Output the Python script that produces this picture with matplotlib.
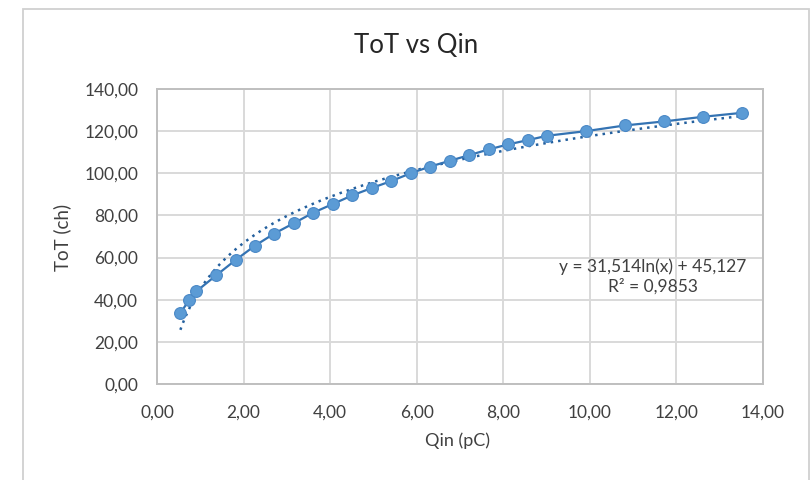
import matplotlib.pyplot as plt
import numpy as np
from matplotlib.ticker import FuncFormatter, MultipleLocator
from matplotlib.patches import Rectangle

# measured points, Qin (pC) vs ToT (ch)
qin = [0.54, 0.75, 0.91, 1.37, 1.82, 2.26, 2.71, 3.16, 3.61, 4.06,
       4.51, 4.96, 5.41, 5.86, 6.31, 6.76, 7.21, 7.66, 8.11, 8.56,
       9.01, 9.91, 10.81, 11.71, 12.61, 13.52]
tot = [33.7, 40.0, 44.0, 51.6, 58.9, 65.6, 71.4, 76.3, 81.3, 85.4,
       89.5, 93.0, 96.3, 100.0, 103.2, 105.9, 108.6, 111.3, 113.7, 115.7,
       117.8, 120.0, 122.7, 124.6, 126.8, 128.7]

# log trendline as reported by the spreadsheet
slope = 31.514
intercept = 45.127
r2 = 0.9853

plt.rcParams['font.family'] = ['Lato', 'DejaVu Sans']

fig = plt.figure(figsize=(8.12, 4.8), dpi=100)
W, H = 812, 480
ax = fig.add_axes([157 / W, 1 - 384 / H, (763 - 157) / W, (384 - 89) / H])

# outer chart border (open at the bottom, cropped)
fig.patches.append(Rectangle((23.5 / W, -0.05), (809 - 23.5) / W, 1.05 - 8.5 / H,
                             transform=fig.transFigure, fill=False,
                             edgecolor='#D0D0D0', linewidth=1.3))

xt = np.linspace(min(qin), max(qin), 300)
ax.plot(xt, slope * np.log(xt) + intercept, linestyle=(0, (1, 2.0)),
        color='#24609E', linewidth=1.8, zorder=3)
ax.plot(qin, tot, color='#3473B3', linewidth=1.6, marker='o', markersize=8.5,
        markerfacecolor='#5B9BD5', markeredgecolor='#4A88C6',
        markeredgewidth=0.8, zorder=4)

ax.set_xlim(0, 14)
ax.set_ylim(0, 140)
ax.xaxis.set_major_locator(MultipleLocator(2))
ax.yaxis.set_major_locator(MultipleLocator(20))
fmt = FuncFormatter(lambda v, p: '{:.2f}'.format(v).replace('.', ','))
ax.xaxis.set_major_formatter(fmt)
ax.yaxis.set_major_formatter(fmt)
ax.tick_params(length=0, labelsize=12.5, colors='#404040')
ax.tick_params(axis='x', pad=14.5)
ax.tick_params(axis='y', pad=13.5)
ax.grid(color='#D9D9D9', linewidth=1.4)
ax.set_axisbelow(True)
for s in ax.spines.values():
    s.set_color('#BFBFBF')
    s.set_linewidth(1.4)

fig.text(416 / W, 1 - 53.3 / H, 'ToT vs Qin', fontsize=18.5, color='#262626',
         ha='center', va='baseline')
fig.text(458 / W, 1 - 441 / H, 'Qin (pC)', fontsize=13, color='#404040',
         ha='center', va='center')
fig.text(62 / W, 1 - 237.5 / H, 'ToT (ch)', fontsize=13.5, color='#404040',
         ha='center', va='center', rotation=90)

eq = 'y = {}ln(x) + {}\nR² = {}'.format(str(slope).replace('.', ','),
                                          str(intercept).replace('.', ','),
                                          str(r2).replace('.', ','))
ax.text(11.45, 51.0, eq, ha='center', va='center', fontsize=12.5,
        color='#404040', linespacing=1.3)

fig.savefig('out.png', dpi=100, facecolor='white')
